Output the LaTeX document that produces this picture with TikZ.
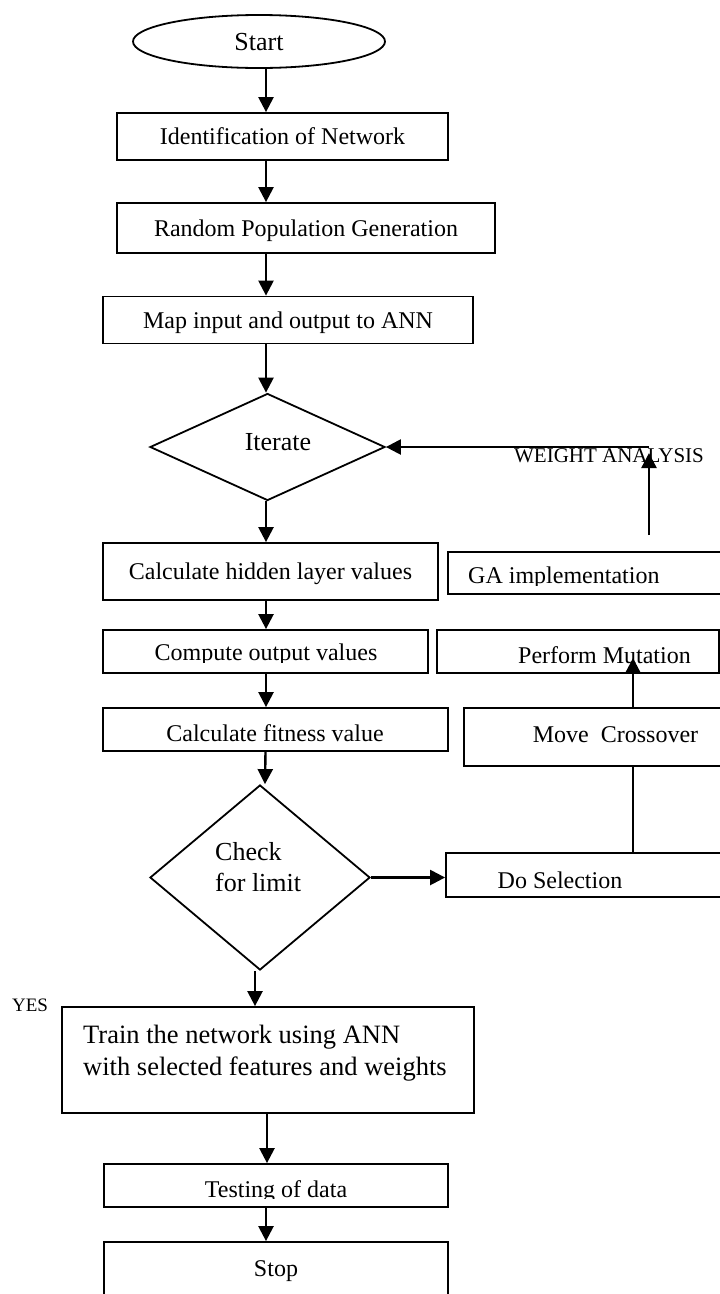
\documentclass[tikz,border=0pt]{standalone}
\usepackage{fontspec}
\setmainfont{Liberation Serif}
\usetikzlibrary{arrows.meta,shapes.geometric}
\begin{document}
\begin{tikzpicture}[x=1pt,y=-1pt,
  box/.style={draw,line width=1.8pt,rectangle,inner sep=0pt,
    font=\fontsize{24}{28}\selectfont,text height=16pt,text depth=0pt},
  shapeline/.style={draw,line width=1.8pt,inner sep=0pt},
  txt/.style={inner sep=0pt,font=\fontsize{24}{28}\selectfont,text height=16pt,text depth=0pt},
  bigtxt/.style={inner sep=0pt,font=\fontsize{26}{30}\selectfont,text height=17pt,text depth=0pt},
  basetxt/.style={inner sep=0pt,font=\fontsize{24}{28}\selectfont},
  arr/.style={line width=2.4pt,-{Triangle[width=15pt,length=15pt]}},
  ln/.style={line width=2.4pt}]
\useasboundingbox (0,0) rectangle (720,1294);

% main column reference
\coordinate (col) at (266,0);

% shapes
\node[shapeline,ellipse,minimum width=252pt,minimum height=53pt,
  font=\fontsize{26}{30}\selectfont,text height=17pt,text depth=0pt] (start) at (259,41.5) {Start};
\node[box,minimum width=331pt,minimum height=47pt] (ident) at (282.5,136.5) {Identification of Network};
\node[box,minimum width=378pt,minimum height=50pt] (rand) at (306,228) {Random Population Generation};
\node[box,minimum width=370pt,minimum height=47pt] (map) at (288,320) {Map input and output to ANN};
\node[shapeline,diamond,minimum width=235pt,minimum height=107pt] (iter) at (267.5,447) {};
\node[box,minimum width=335pt,minimum height=57pt] (calch) at (270.5,571.5) {Calculate hidden layer values};
\node[box,minimum width=277pt,minimum height=42pt] (ga) at (586.5,573) {};
\node[box,minimum width=325pt,minimum height=43pt] (compute) at (265.5,651.5) {};
\node[box,minimum width=282pt,minimum height=43pt] (mut) at (578,651.5) {};
\node[box,minimum width=345pt,minimum height=43pt] (fit) at (275.5,729.5) {};
\node[box,minimum width=261pt,minimum height=58pt] (cross) at (594.5,737) {};
\node[shapeline,diamond,minimum width=220pt,minimum height=185pt] (check) at (260,877.5) {};
\node[box,minimum width=279pt,minimum height=44pt] (sel) at (585.5,875) {};
\node[box,minimum width=412pt,minimum height=106pt] (train) at (268,1060) {};
\node[box,minimum width=344pt,minimum height=43pt] (test) at (276,1185.5) {};
\node[box,minimum width=344pt,minimum height=58pt] (stop) at (276,1271) {};

% free ends
\coordinate (wacorner) at (649,447);
\coordinate (wastart) at (649,535);
\coordinate (watip) at (649,453);
\coordinate (mtip) at (633,658);

% connectors of the main column
\draw[arr] (start.south -| col) -- (ident.north -| col);
\draw[arr] (ident.south -| col) -- (rand.north -| col);
\draw[arr] (rand.south -| col) -- (map.north -| col);
\draw[arr] (map.south -| col) -- (iter.north -| col);
\draw[arr] (iter.south -| col) -- (calch.north -| col);
\draw[arr] (calch.south -| col) -- (compute.north -| col);
\draw[arr] (compute.south -| col) -- (fit.north -| col);
\draw[arr] ([xshift=-10pt]fit.south) -- ([xshift=5pt]check.north);
\draw[arr] ([xshift=-5pt]check.south) -- ([xshift=-5pt]check.south |- train.north);
\draw[arr] ([xshift=-1pt]train.south) -- ([xshift=-1pt]train.south |- test.north);
\draw[arr] (test.south -| col) -- (stop.north -| col);

% GA loop
\draw[arr] (check.east) -- (check.east -| sel.west);
\draw[ln] (sel.north -| mtip) -- (cross.south -| mtip);
\draw[arr] (cross.north -| mtip) -- (mtip);
\draw[arr] (wastart) -- (watip);
\draw[arr] (wacorner) -- (iter.east);

% texts
\node[bigtxt] (iterlbl) at (278,442) {Iterate};
\begin{scope}
  \clip (440,540) rectangle (725,585);
  \node[basetxt,anchor=base west] (galbl) at (468,583) {GA implementation};
\end{scope}
\begin{scope}
  \clip (100,620) rectangle (435,662);
  \node[basetxt,anchor=base] (computelbl) at (266,660) {Compute output values};
\end{scope}
\node[txt] (mutlbl) at (604.5,655.5) {Perform Mutation};
\node[txt] (fitlbl) at (275,733) {Calculate fitness value};
\node[txt] (crosslbl) at (615.5,734) {Move\ \ Crossover};
\node[inner sep=0pt,font=\fontsize{26}{31}\selectfont,align=left,anchor=north west] (checklbl) at (215,842) {Check\\for limit};
\node[txt] (sellbl) at (560,880) {Do Selection};
\node[inner sep=0pt,font=\fontsize{26.5}{32}\selectfont,align=left,anchor=north west] (trainlbl) at (83,1025) {Train the network using ANN\\with selected features and weights};
\begin{scope}
  \clip (100,1150) rectangle (450,1198);
  \node[basetxt,anchor=base] (testlbl) at (276,1197) {Testing of data};
\end{scope}
\node[txt] (stoplbl) at (276,1268) {Stop};
\node[inner sep=0pt,font=\fontsize{19}{22}\selectfont,text height=12.6pt,text depth=0pt] (yes) at (30,1005) {YES};
\node[inner sep=0pt,font=\fontsize{21}{24}\selectfont,text height=14pt,text depth=0pt] (weight) at (609,455.5) {WEIGHT ANALYSIS};
\end{tikzpicture}
\end{document}
